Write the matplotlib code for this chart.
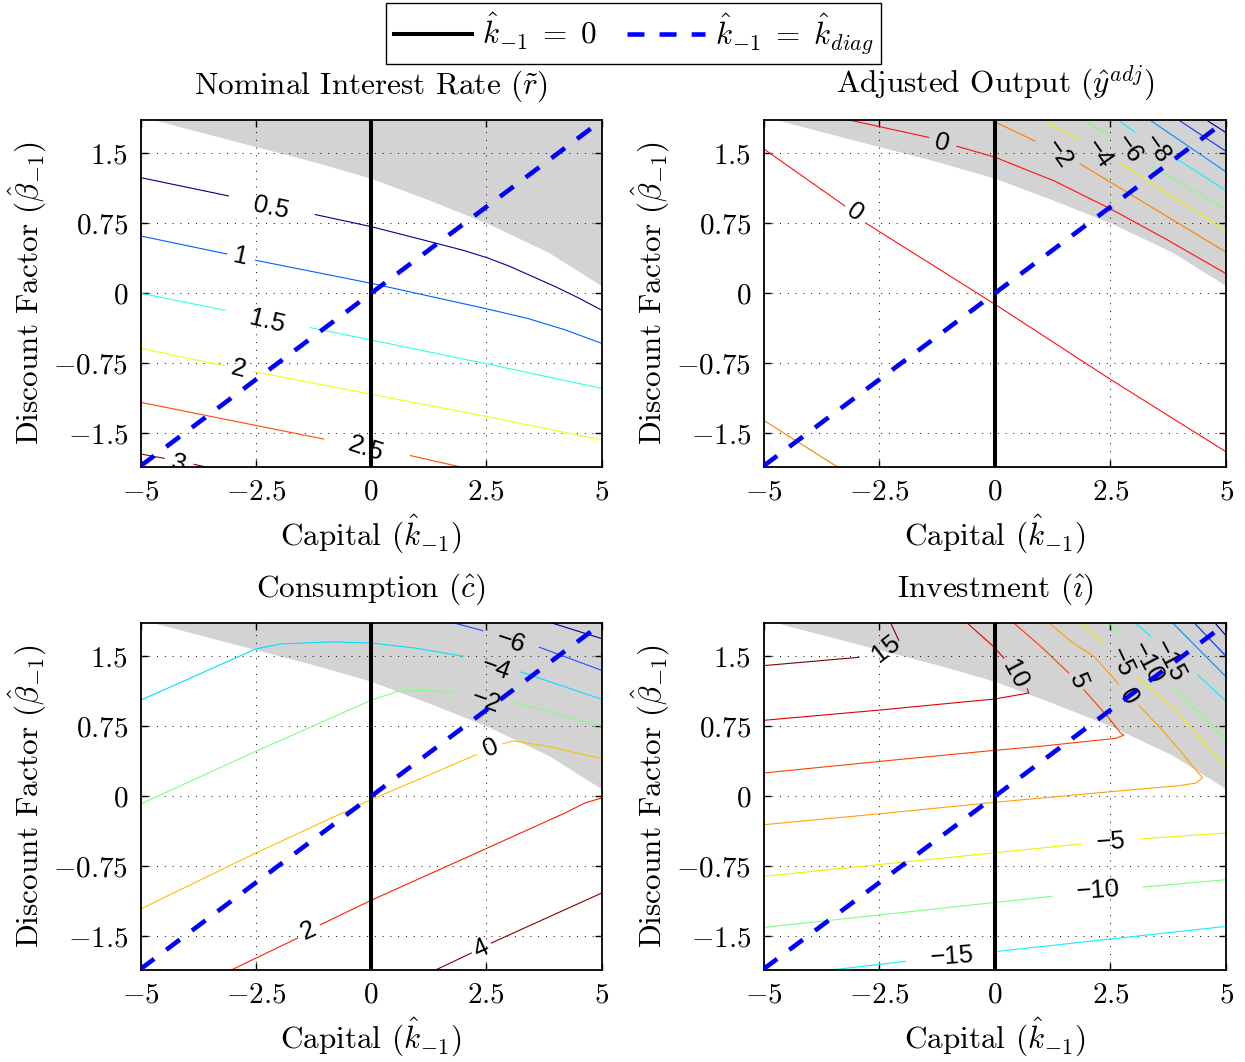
import matplotlib.pyplot as plt
from matplotlib.lines import Line2D

plt.rcParams['font.family'] = 'cmr10'
plt.rcParams['mathtext.fontset'] = 'cm'
plt.rcParams['axes.unicode_minus'] = False

# ---- shared axes data ----
k_ticks = [-5, -2.5, 0, 2.5, 5]
k_ticklabels = ['$-5$', '$-2.5$', '$0$', '$2.5$', '$5$']
beta_ticks = [-1.5, -0.75, 0, 0.75, 1.5]
beta_ticklabels = ['$-1.5$', '$-0.75$', '$0$', '$0.75$', '$1.5$']
beta_lim = 1.857

# boundary of the shaded (ZLB) region, shaded above this curve
zlb_k = [-5, -4.71, -2.5, -1.25, 0, 1.25, 2.52, 3.84, 5]
zlb_beta = [1.9, 1.857, 1.571, 1.41, 1.232, 1.0, 0.75, 0.44, 0.08]

# k_-1 = k_diag line
diag_k = [-5, 5]
diag_beta = [-1.85, 1.85]

# ---- panel 1: nominal interest rate ----
r_levels = [0.5, 1, 1.5, 2, 2.5, 3]
r_lines = [
    [[(-5, 1.239), (-3.094, 1.043)],
     [(-1.21, 0.843), (0, 0.714), (1.3, 0.55), (2.0, 0.46), (2.52, 0.38), (3.0, 0.29),
      (3.5, 0.18), (4.0, 0.07), (4.5, -0.05), (5, -0.18)]],
    [[(-5, 0.614), (-3.13, 0.421)],
     [(-2.51, 0.354), (0, 0.107), (2.52, -0.168), (3.4, -0.27), (4.2, -0.39), (5, -0.536)]],
    [[(-5, 0.0), (-3.17, -0.182)],
     [(-1.32, -0.368), (0, -0.5), (2.52, -0.757), (5, -1.018)]],
    [[(-5, -0.589), (-3.19, -0.775)],
     [(-2.54, -0.839), (0, -1.082), (2.52, -1.321), (5, -1.571)]],
    [[(-5, -1.168), (-1.03, -1.561)],
     [(0.855, -1.739), (2.3, -1.9)]],
    [[(-5, -1.721), (-4.49, -1.768)],
     [(-3.84, -1.832), (-3.5, -1.87)]],
]
r_label_pos = [(-2.17, 0.91), (-2.83, 0.393), (-2.25, -0.304), (-2.88, -0.814),
               (-0.11, -1.668), (-4.17, -1.83)]

# ---- panel 2: adjusted output ----
y_levels = [0, 0, -2, -2, -4, -6, -8, -10, -12, -14]
y_lines = [
    [[(-5, 1.548), (-3.245, 0.936)],
     [(-2.797, 0.754), (0, -0.117), (2.509, -0.925), (5, -1.698)]],
    [[(-3.5, 1.894), (-1.43, 1.67)],
     [(-0.82, 1.575), (0, 1.458), (1.3, 1.2), (2.49, 0.907), (3.7, 0.58), (5, 0.21)]],
    [[(-5, -1.36), (-3.37, -1.87)]],
    [[(-0.1, 1.86), (0.87, 1.63)],
     [(1.84, 1.387), (5, 0.44)]],
    [[(0.95, 1.88), (1.77, 1.655)],
     [(2.69, 1.40), (5, 0.67)]],
    [[(1.84, 1.88), (2.48, 1.69)],
     [(3.36, 1.37), (5, 0.9)]],
    [[(2.6, 1.88), (3.03, 1.725)],
     [(3.93, 1.44), (5, 1.1)]],
    [[(3.28, 1.88), (5, 1.30)]],
    [[(3.9, 1.88), (5, 1.52)]],
    [[(4.5, 1.88), (5, 1.72)]],
]
y_label_pos = [(-3.035, 0.861), (-1.15, 1.61), None, (1.375, 1.49), (2.24, 1.49),
               (2.89, 1.543), (3.50, 1.543), None, None, None]

# ---- panel 3: consumption ----
c_levels = [4, 2, 0, -2, -4, -6, -8]
c_lines = [
    [[(1.3, -1.883), (2.174, -1.679)],
     [(2.609, -1.571), (5, -1.036)]],
    [[(-3.2, -1.9), (-1.594, -1.518)],
     [(-1.101, -1.375), (0, -1.114), (2.522, -0.554), (4.203, -0.179), (4.638, -0.071), (5, -0.018)]],
    [[(-5, -1.207), (-2.5, -0.607), (0, -0.036), (2.283, 0.446)],
     [(2.862, 0.564), (3.08, 0.593), (3.84, 0.536), (5, 0.404)]],
    [[(-5, -0.082), (-2.5, 0.482), (0, 1.029), (0.58, 1.125), (1.087, 1.136), (1.775, 1.114)],
     [(3.1, 1.01), (5, 0.75)]],
    [[(-5, 1.029), (-2.5, 1.579), (-1.957, 1.632), (-0.87, 1.654), (0, 1.643), (0.942, 1.589), (2.007, 1.5)],
     [(3.25, 1.332), (5, 1.04)]],
    [[(1.6, 1.88), (1.88, 1.846), (2.42, 1.775)],
     [(3.65, 1.597), (5, 1.35)]],
    [[(3.9, 1.86), (5, 1.69)]],
]
c_label_pos = [(2.377, -1.636), (-1.362, -1.436), (2.594, 0.518), (2.49, 1.017),
               (2.71, 1.375), (3.04, 1.653), None]

# ---- panel 4: investment ----
i_levels = [15, 10, 5, 0, -5, -5, -10, -10, -15, -15, -20, -25, -30]
i_lines = [
    [[(-5, 1.40), (-2.94, 1.489)],
     [(-2.076, 1.671), (-2.235, 1.839), (-2.27, 1.9)]],
    [[(-0.65, 1.9), (-0.598, 1.857), (-0.058, 1.618), (0.195, 1.482)],
     [(0.70, 1.15), (0.735, 1.107), (0, 1.043), (-2.473, 0.925), (-5, 0.814)]],
    [[(0.35, 1.9), (0.41, 1.857), (0.99, 1.607), (1.60, 1.321)],
     [(1.925, 1.142), (2.466, 0.839), (2.72, 0.678), (2.79, 0.655), (2.61, 0.621),
      (0.99, 0.536), (0, 0.493), (-2.473, 0.375), (-5, 0.25)]],
    [[(1.1, 1.9), (1.168, 1.857), (1.7, 1.64), (2.14, 1.5), (2.45, 1.33), (2.68, 1.2)],
     [(3.115, 0.975), (3.58, 0.732), (4.02, 0.482), (4.34, 0.285), (4.49, 0.2), (4.36, 0.143),
      (3.98, 0.114), (2.754, 0.061), (0, -0.064), (-2.473, -0.186), (-5, -0.304)]],
    [[(1.8, 1.9), (1.85, 1.857), (2.36, 1.643)],
     [(3.08, 1.275), (3.87, 0.946), (5, 0.31)]],
    [[(-5, -0.857), (1.853, -0.511)],
     [(3.187, -0.454), (5, -0.393)]],
    [[(2.4, 1.9), (2.47, 1.857), (2.68, 1.75)],
     [(3.84, 1.178), (5, 0.6)]],
    [[(-5, -1.404), (1.24, -1.071)],
     [(3.2, -0.971), (5, -0.893)]],
    [[(3.0, 1.9), (3.04, 1.857), (3.37, 1.714)],
     [(4.38, 1.303), (5, 1.02)]],
    [[(-3.6, -1.863), (-1.932, -1.768)],
     [(0.05, -1.661), (5, -1.393)]],
    [[(3.8, 1.88), (5, 1.28)]],
    [[(4.27, 1.88), (5, 1.50)]],
    [[(4.72, 1.88), (5, 1.72)]],
]
i_label_pos = [(-2.35, 1.579), (0.43, 1.31), (1.80, 1.232), (2.90, 1.071), (2.74, 1.44),
               (2.52, -0.493), (3.30, 1.428), (2.235, -1.007), (3.76, 1.446), (-0.923, -1.714),
               None, None, None]

# ---- styles ----
r_colors = ['#00008f', '#0060ff', '#30ffe0', '#f0ff10', '#ff4a00', '#8f0000']
r_rot = [-12, -12, -14, -14, -18, -14]
y_colors = ['#ff1010', '#ff1010', '#ff8000', '#ff8000', '#f0f000', '#80ff80', '#10efff',
            '#0090ff', '#1030ff', '#000090']
y_rot = [-35, -15, 0, -55, -55, -55, -55, 0, 0, 0]
c_colors = ['#800000', '#ff2000', '#ffc000', '#80ff80', '#00dfff', '#2050ff', '#000090']
c_rot = [25, 25, 23, -20, -20, -18, 0]
i_colors = ['#800000', '#e00000', '#ff4000', '#ffa000', '#f0f000', '#f0f000', '#80ff80',
            '#80ff80', '#10f0ff', '#10f0ff', '#0090ff', '#0030ff', '#000090']
i_rot = [38, -62, -68, -60, -65, 4, -62, 4, -62, 4, 0, 0, 0]

panels = [
    ('Nominal Interest Rate ($\\tilde{r}$)', r_levels, r_lines, r_label_pos, r_colors, r_rot),
    ('Adjusted Output ($\\hat{y}^{adj}$)', y_levels, y_lines, y_label_pos, y_colors, y_rot),
    ('Consumption ($\\hat{c}$)', c_levels, c_lines, c_label_pos, c_colors, c_rot),
    ('Investment ($\\hat{\\imath}$)', i_levels, i_lines, i_label_pos, i_colors, i_rot),
]
rects = [[0.1129, 0.5606, 0.3703, 0.3265], [0.6133, 0.5606, 0.3715, 0.3265],
         [0.1129, 0.0869, 0.3703, 0.3265], [0.6133, 0.0869, 0.3715, 0.3265]]


def level_text(v):
    return ('%g' % v).replace('-', '\u2212')


fig = plt.figure(figsize=(12.45, 10.62), dpi=100)

for rect, (title, levels, lines, label_pos, colors, rots) in zip(rects, panels):
    ax = fig.add_axes(rect)

    # shaded region
    ax.fill_between(zlb_k, zlb_beta, 3, color='#d3d3d3', linewidth=0, zorder=1)

    # contour lines, broken where the labels sit
    for lev, segs, pos, col, rot in zip(levels, lines, label_pos, colors, rots):
        for seg in segs:
            ax.plot([p[0] for p in seg], [p[1] for p in seg], color=col, lw=0.8, zorder=2)
        if pos is not None:
            ax.text(pos[0], pos[1], level_text(lev), rotation=rot, rotation_mode='anchor',
                    ha='center', va='center', fontsize=18.5, family='Liberation Sans',
                    clip_on=True, zorder=3)

    ax.axvline(0, color='k', lw=2.9, zorder=4)
    ax.plot(diag_k, diag_beta, color='#0000ff', lw=3.3, linestyle=(0, (3.7, 3.3)),
            dash_capstyle='butt', zorder=5)

    ax.set_xlim(-5, 5)
    ax.set_ylim(-beta_lim, beta_lim)
    ax.set_xticks(k_ticks)
    ax.set_xticklabels(k_ticklabels)
    ax.set_yticks(beta_ticks)
    ax.set_yticklabels(beta_ticklabels)
    ax.tick_params(direction='in', length=5, width=1, top=True, right=True,
                   labelsize=21, pad=9)
    ax.grid(True, color='k', linestyle=(0, (1, 7)), linewidth=0.7)
    for s in ax.spines.values():
        s.set_linewidth(1.3)

    ax.set_title(title, fontsize=22.5, pad=19)
    ax.set_xlabel('Capital ($\\hat{k}_{-1}$)', fontsize=22.5, labelpad=5)
    ax.set_ylabel('Discount Factor ($\\hat{\\beta}_{-1}$)', fontsize=22.5, labelpad=3)

handles = [Line2D([], [], color='k', lw=2.9),
           Line2D([], [], color='#0000ff', lw=3.3, linestyle=(0, (3.7, 3.3)), dash_capstyle='butt')]
fig.legend(handles, ['$\\hat{k}_{-1} \\;=\\; 0$', '$\\hat{k}_{-1} \\;=\\; \\hat{k}_{diag}$'],
           loc='upper center', bbox_to_anchor=(0.509, 0.997), borderaxespad=0, ncol=2,
           fontsize=22.5, fancybox=False, edgecolor='k', framealpha=1, handlelength=2.5,
           handletextpad=0.3, columnspacing=1.0, borderpad=0.25)

fig.savefig('out.png', dpi=100)
